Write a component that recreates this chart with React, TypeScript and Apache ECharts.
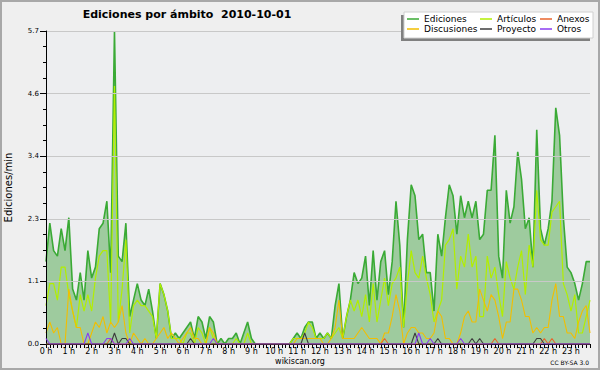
import React, { useEffect, useRef } from "react";
import * as echarts from "echarts";

// ---- data (edits per minute, 10-minute buckets, 2010-10-01) ----
const HOURS = [0, 1, 2, 3, 4, 5, 6, 7, 8, 9, 10, 11, 12, 13, 14, 15, 16, 17, 18, 19, 20, 21, 22, 23];
const MINUTES = ["00", "10", "20", "30", "40", "50"];
const categories = HOURS.flatMap((h) => MINUTES.map((m) => `${h}:${m}`));

const TITLE = "Ediciones por ámbito  2010-10-01";
const Y_NAME = "Ediciones/min";
const Y_TICKS = [0, 1.14, 2.28, 3.42, 4.56, 5.7];

const ediciones = [
  1.5, 2.2, 1.7, 1.6, 2.1, 1.7, 2.3, 1.0, 0.8, 1.3,
  0.8, 1.7, 1.2, 1.4, 2.1, 2.2, 2.6, 1.3, 5.7, 1.6,
  1.5, 2.2, 0.5, 0.8, 1.1, 0.8, 0.7, 1.0, 0.6, 0.1,
  1.1, 0.9, 0.6, 0.1, 0.2, 0.1, 0.2, 0.3, 0.4, 0.1,
  0.5, 0.4, 0.1, 0.5, 0.4, 0, 0.1, 0, 0.1, 0.1,
  0.2, 0, 0.2, 0.4, 0.1, 0, 0, 0, 0, 0,
  0, 0, 0, 0, 0, 0.1, 0.2, 0.1, 0.3, 0.4,
  0.4, 0.1, 0.2, 0.1, 0.2, 0.1, 0.7, 1.1, 0.1, 0.5,
  0.8, 1.3, 1.1, 1.2, 1.6, 0.7, 1.7, 0.8, 1.5, 1.7,
  0.9, 1.5, 2.6, 1.8, 0.3, 1.9, 2.9, 2.7, 1.9, 2.0,
  1.3, 1.3, 0.6, 2.0, 1.6, 2.3, 2.9, 2.7, 2.0, 2.7,
  2.3, 2.6, 2.3, 2.6, 1.9, 2.0, 2.8, 2.8, 3.8, 1.6,
  1.2, 2.8, 2.2, 2.5, 3.5, 3.0, 2.1, 2.3, 1.4, 3.9,
  2.1, 1.8, 2.1, 2.6, 4.3, 3.8, 2.3, 1.4, 1.3, 1.1,
  0.8, 1.1, 1.5, 1.5,
];

const articulos = [
  0.7, 1.1, 1.1, 0.8, 1.4, 1.4, 0.9, 0.6, 0.3, 0.9,
  0.6, 0.9, 0.6, 1.2, 1.6, 1.7, 1.7, 0.4, 4.7, 0.4,
  1.0, 1.9, 0.2, 0.7, 0.8, 0.7, 0.7, 0.6, 0.5, 0.1,
  1.1, 0.9, 0.6, 0.1, 0.1, 0.1, 0, 0.2, 0.2, 0,
  0.3, 0.2, 0, 0.3, 0.1, 0, 0, 0, 0, 0,
  0.1, 0, 0, 0.2, 0, 0, 0, 0, 0, 0,
  0, 0, 0, 0, 0, 0.1, 0.1, 0.1, 0.2, 0.4,
  0.3, 0.1, 0.1, 0.1, 0.2, 0.1, 0.2, 0.3, 0.1, 0.5,
  0.8, 0.6, 0.8, 0.5, 0.9, 0.4, 1.1, 0.4, 0.8, 1.2,
  0.7, 1.1, 1.2, 1.4, 0.3, 1.1, 1.7, 1.3, 1.2, 1.6,
  1.2, 0.9, 0.4, 0.6, 0.8, 1.8, 1.9, 2.1, 1.0, 1.6,
  1.4, 2.0, 1.4, 1.6, 0.5, 0.5, 1.6, 1.2, 1.4, 0.9,
  0.5, 1.5, 1.2, 1.0, 1.4, 1.7, 0.9, 1.8, 1.4, 2.8,
  1.9, 1.8, 1.8, 2.4, 2.5, 2.6, 1.1, 0.9, 0.6, 0.9,
  0.2, 0.2, 0.5, 0.8,
];

const discusiones = [
  0.2, 0.4, 0.2, 0.3, 0, 0, 1.0, 0.6, 0.3, 0.3,
  0, 0, 0.2, 0.4, 0.3, 0.5, 0.2, 0.4, 0.3, 0.4,
  0.7, 0.2, 0, 0.2, 0.1, 0, 0.1, 0, 0, 0.1,
  0.2, 0.3, 0.1, 0.2, 0.1, 0, 0.1, 0.2, 0.3, 0.1,
  0.1, 0, 0, 0.3, 0.2, 0, 0, 0, 0, 0,
  0, 0, 0, 0, 0, 0, 0, 0, 0, 0,
  0, 0, 0, 0, 0, 0, 0.1, 0.1, 0.1, 0.1,
  0.1, 0.1, 0.1, 0, 0, 0.1, 0.3, 0.8, 0.1, 0.1,
  0.1, 0.1, 0.2, 0.3, 0.2, 0.1, 0.1, 0.1, 0, 0.2,
  0.2, 0.5, 0.9, 0.6, 0, 0.2, 0.3, 0.3, 0.2, 0.2,
  0.1, 0.1, 0.2, 0.6, 0.5, 0.1, 0.1, 0, 0, 0.2,
  0.5, 0.6, 0.4, 0.4, 1.0, 0.8, 0.6, 0.9, 0.8, 0.5,
  0.1, 0.4, 0.4, 1.0, 1.0, 0.8, 0.5, 0.5, 0.2, 0.3,
  0.2, 0.3, 0.3, 0.8, 1.1, 0.5, 0.5, 0.2, 0.2, 0.1,
  0.4, 0.6, 0.7, 0.2,
];

// sparse series: [bucket index, value]; all other buckets are zero
const anexosPeaks: [number, number][] = [[17, 0.1], [89, 0.1], [118, 0.1], [131, 0.1], [133, 0.1]];
const proyectoPeaks: [number, number][] = [
  [18, 0.2], [20, 0.1], [21, 0.1], [38, 0.1], [68, 0.2], [97, 0.2],
  [103, 0.1], [112, 0.1], [114, 0.1], [129, 0.1], [130, 0.1],
];
const otrosPeaks: [number, number][] = [
  [0, 0.1], [11, 0.2], [16, 0.1], [17, 0.1], [22, 0.1], [44, 0.1],
  [98, 0.2], [101, 0.1], [109, 0.1],
];

const expand = (peaks: [number, number][]) => {
  const arr = categories.map(() => 0);
  peaks.forEach(([i, v]) => (arr[i] = v));
  return arr;
};

const SERIES = [
  { name: "Ediciones", data: ediciones, color: "#3aaa35", width: 1.6, area: "#9ecb9e" },
  { name: "Artículos", data: articulos, color: "#b2ee00", width: 1.2 },
  { name: "Discusiones", data: discusiones, color: "#f2be00", width: 1.1 },
  { name: "Anexos", data: expand(anexosPeaks), color: "#e8642c", width: 1.1 },
  { name: "Proyecto", data: expand(proyectoPeaks), color: "#3c3c3c", width: 1.1 },
  { name: "Otros", data: expand(otrosPeaks), color: "#8a3cf0", width: 1.1 },
];

const LEGEND_COLUMNS = [
  ["Ediciones", "Discusiones"],
  ["Artículos", "Proyecto"],
  ["Anexos", "Otros"],
];
const LEGEND_LEFT = [407, 480, 540];

const FONT = "DejaVu Sans";

export default function App() {
  const ref = useRef<HTMLDivElement>(null);
  useEffect(() => {
    document.body.style.margin = "0";
    const chart = echarts.init(ref.current!, null, { renderer: "svg" });
    chart.setOption({
      animation: false,
      backgroundColor: "#efefef",
      textStyle: { fontFamily: FONT },
      grid: {
        left: 46, top: 31, right: 10, bottom: 26,
        containLabel: false,
        outerBoundsMode: "none",
        show: true, backgroundColor: "#edeef0", borderWidth: 0,
      },
      xAxis: {
        type: "category",
        data: categories,
        boundaryGap: false,
        z: 5,
        axisLine: { show: true, lineStyle: { color: "#000", width: 1 } },
        axisTick: { show: true, interval: 0, length: 4, lineStyle: { color: "#000" } },
        axisLabel: {
          interval: 5, margin: 3, fontSize: 8, color: "#000", fontFamily: FONT,
          formatter: (v: string) => `${v.split(":")[0]} h`,
        },
        splitLine: { show: false },
      },
      yAxis: {
        type: "value",
        min: Y_TICKS[0],
        max: Y_TICKS[Y_TICKS.length - 1],
        interval: Y_TICKS[1] - Y_TICKS[0],
        z: 5,
        name: Y_NAME,
        nameLocation: "middle",
        nameGap: 33,
        nameRotate: 90,
        nameTextStyle: { fontSize: 10, color: "#000", fontFamily: FONT },
        axisLine: { show: true, lineStyle: { color: "#000" } },
        axisTick: { show: true, length: 6, lineStyle: { color: "#000" } },
        minorTick: { show: true, splitNumber: 4, length: 3, lineStyle: { color: "#000" } },
        axisLabel: {
          margin: 7, fontSize: 7, color: "#000", fontFamily: FONT,
          formatter: (v: number) => v.toFixed(1),
        },
        splitLine: { show: true, lineStyle: { color: "#c8c8c8", width: 1 } },
      },
      legend: LEGEND_COLUMNS.map((names, k) => ({
        data: names,
        orient: "vertical",
        left: LEGEND_LEFT[k],
        top: 14,
        padding: 0,
        itemGap: 0,
        itemWidth: 12,
        itemHeight: 1.5,
        icon: "rect",
        selectedMode: false,
        z: 12,
        textStyle: { fontSize: 9, lineHeight: 10, color: "#000", fontFamily: FONT },
      })),
      graphic: [
        { type: "rect", z: 10, shape: { x: 401, y: 15, width: 189, height: 26 }, style: { fill: "#808080" } },
        { type: "rect", z: 10, shape: { x: 404, y: 12, width: 189, height: 26 }, style: { fill: "#ffffff", stroke: "#d0d0d0", lineWidth: 1 } },
        {
          type: "text", z: 10, x: 187, y: 14,
          style: { text: TITLE, fontSize: 11, fontWeight: "bold", fill: "#000", fontFamily: FONT, align: "center", verticalAlign: "middle" },
        },
        {
          type: "text", z: 10, x: 300, y: 361,
          style: { text: "wikiscan.org", fontSize: 8, fill: "#000", fontFamily: FONT, align: "center", verticalAlign: "middle" },
        },
        {
          type: "text", z: 10, x: 589, y: 362,
          style: { text: "CC BY-SA 3.0", fontSize: 6, fill: "#000", fontFamily: FONT, align: "right", verticalAlign: "middle" },
        },
        { type: "rect", z: 20, shape: { x: 1, y: 1, width: 598, height: 368 }, style: { fill: "none", stroke: "#a8a8a8", lineWidth: 2 } },
      ],
      series: SERIES.map((s, k) => ({
        name: s.name,
        type: "line",
        data: s.data,
        symbol: "none",
        silent: true,
        z: 2 + k,
        itemStyle: { color: s.color },
        lineStyle: { color: s.color, width: s.width },
        areaStyle: s.area ? { color: s.area, opacity: 1 } : undefined,
      })),
    });
    return () => chart.dispose();
  }, []);
  return <div ref={ref} style={{ width: 600, height: 370 }} />;
}
